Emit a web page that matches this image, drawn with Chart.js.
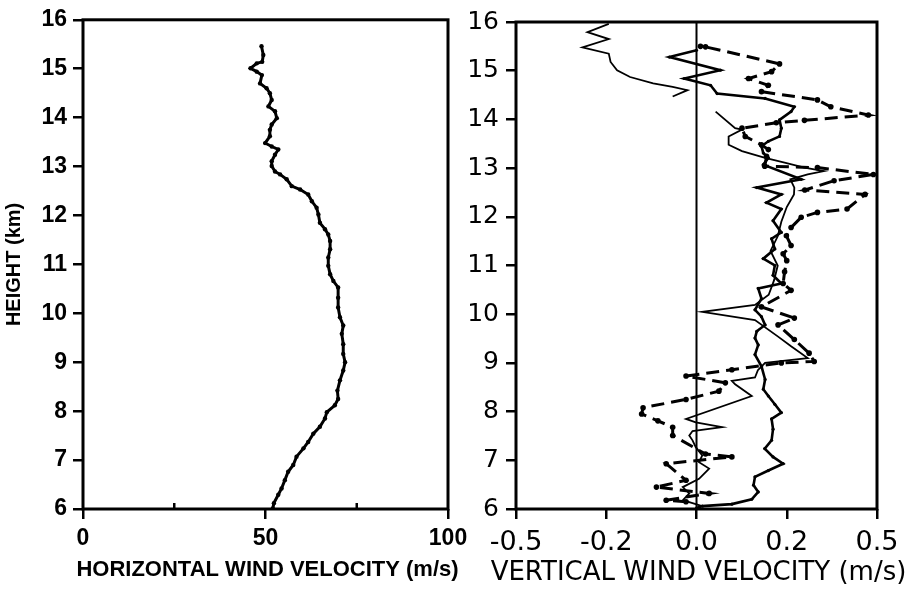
<!DOCTYPE html>
<html>
<head>
<meta charset="utf-8">
<script src="https://cdn.jsdelivr.net/npm/chart.js@4.4.1/dist/chart.umd.min.js"></script>
<style>
  body { margin: 0; background: #fff; }
  canvas { position: absolute; top: 0; }
  #left { left: 0; }
  #right { left: 460px; }
</style>
</head>
<body>
<canvas id="left" width="480" height="590"></canvas>
<canvas id="right" width="447" height="590"></canvas>
<script>
// ---- data (heights in km, velocities in m/s) ----
const heightTicks = [6, 7, 8, 9, 10, 11, 12, 13, 14, 15, 16];
const vTickLabels = ['-0.5', '-0.2', '0.0', '0.2', '0.5'];

const horizH = [6.01,6.12,6.29,6.42,6.59,6.76,6.90,7.07,7.24,7.37,7.54,7.68,7.85,7.98,8.12,8.25,8.42,8.63,8.83,9.00,9.17,9.37,9.58,9.75,9.92,10.12,10.32,10.53,10.66,10.80,10.97,11.14,11.31,11.48,11.61,11.72,11.85,12.02,12.16,12.29,12.43,12.53,12.60,12.74,12.84,12.90,13.01,13.11,13.24,13.35,13.41,13.48,13.62,13.75,13.86,13.99,14.13,14.23,14.36,14.50,14.60,14.70,14.87,14.94,15.01,15.11,15.14,15.28,15.46];
const horizV = [52.0,52.3,53.5,54.4,55.3,56.2,57.6,58.5,60.4,61.7,63.1,64.9,66.3,66.8,69.0,69.9,69.7,70.4,71.3,71.8,71.3,71.3,70.9,71.3,70.4,69.9,69.9,69.9,68.6,67.7,67.2,67.2,67.7,67.7,67.2,66.3,64.9,64.5,64.0,62.7,61.7,59.5,57.2,55.8,54.0,52.6,51.7,51.7,52.6,53.5,51.7,49.9,51.2,51.2,51.7,53.1,52.6,50.8,51.7,51.2,50.3,48.5,49.0,47.6,45.9,47.6,49.1,49.4,48.9];

const heavyH = [6.02,6.06,6.10,6.20,6.35,6.49,6.66,6.79,6.93,7.07,7.24,7.41,7.64,7.85,7.98,8.15,8.32,8.46,8.66,8.93,9.17,9.37,9.51,9.65,9.78,9.95,10.09,10.32,10.53,10.63,10.80,11.00,11.14,11.34,11.55,11.68,11.92,12.16,12.29,12.46,12.60,12.77,13.07,13.21,13.31,13.45,13.55,13.65,13.82,13.99,14.16,14.26,14.43,14.53,14.70,14.84,15.01,15.28,15.42];
const heavyV = [0.00,0.016,0.098,0.153,0.171,0.158,0.162,0.199,0.240,0.212,0.189,0.208,0.212,0.208,0.235,0.217,0.199,0.185,0.19,0.18,0.162,0.171,0.162,0.167,0.19,0.18,0.162,0.18,0.171,0.235,0.212,0.217,0.185,0.217,0.208,0.235,0.212,0.235,0.194,0.235,0.167,0.29,0.185,0.199,0.185,0.18,0.199,0.23,0.235,0.23,0.262,0.271,0.19,0.057,0.039,-0.034,0.066,-0.075,0.0];

const thinLowH = [6.05,6.12,6.18,6.32,6.45,6.62,6.83,6.96,7.10,7.27,7.41,7.51,7.60,7.68,7.78,7.85,8.32,8.56,8.63,8.70,8.85,9.00,9.10,9.34,9.54,9.88,10.05,10.19,10.40,10.70,11.00,11.30,11.60,11.90,12.20,12.46,12.60,12.77,12.87,12.94,13.01,13.11,13.21,13.35,13.48,13.65,13.79,13.82,14.16];
const thinLowV = [0.02,-0.011,-0.038,-0.02,-0.038,0.007,0.035,0.007,0.016,-0.002,-0.011,-0.02,-0.011,0.071,-0.002,-0.029,0.153,0.107,0.098,0.162,0.17,0.19,0.308,0.262,0.226,0.162,0.016,0.162,0.2,0.215,0.225,0.205,0.225,0.235,0.25,0.27,0.271,0.26,0.308,0.353,0.299,0.244,0.19,0.126,0.089,0.089,0.126,0.107,0.053];

const thinTopH = [14.47,14.60,14.67,14.74,14.87,15.01,15.18,15.35,15.48,15.65,15.79,15.96];
const thinTopV = [-0.066,-0.025,-0.066,-0.12,-0.184,-0.22,-0.238,-0.243,-0.316,-0.243,-0.302,-0.243];

const dashH = [6.15,6.18,6.32,6.45,6.59,6.93,7.07,7.13,7.51,7.68,7.81,7.95,8.08,8.25,8.42,8.59,8.73,8.86,9.00,9.03,9.20,9.48,9.78,9.92,10.15,10.49,10.63,10.87,11.10,11.24,11.41,11.61,11.78,11.99,12.09,12.16,12.46,12.55,12.74,12.87,13.01,13.04,13.24,13.38,13.48,13.65,13.82,13.93,13.98,14.09,14.26,14.40,14.57,14.70,14.84,14.98,15.14,15.49,15.50];
const dashV = [-0.029,-0.084,0.035,-0.111,-0.029,-0.084,0.098,0.025,-0.066,-0.066,-0.107,-0.152,-0.148,-0.029,0.062,0.08,-0.029,0.098,0.235,0.326,0.312,0.271,0.226,0.271,0.18,0.262,0.24,0.244,0.25,0.24,0.262,0.249,0.262,0.29,0.335,0.417,0.467,0.30,0.381,0.49,0.335,0.189,0.194,0.199,0.18,0.135,0.126,0.221,0.299,0.476,0.372,0.335,0.18,0.199,0.144,0.208,0.23,0.025,0.011];

const zeroV = [0, 0];
const zeroH = [6, 16];

function pts(xs, ys) {
    return xs.map((x, i) => ({ x: x, y: ys[i] }));
}

// box round the plot area, small inward ticks for unlabelled x ticks, and the x title
// (drawn here so it is not squeezed to the width of the plot area)
function framePlugin(titleText, titleFont, titleY) {
    return {
        id: 'frame',
        afterDraw(chart) {
            const ctx = chart.ctx, a = chart.chartArea;
            ctx.save();
            ctx.lineWidth = 3;
            ctx.strokeStyle = '#000';
            ctx.strokeRect(a.left, a.top, a.right - a.left, a.bottom - a.top);
            const xs = chart.scales.x;
            ctx.lineWidth = 2.5;
            xs.ticks.forEach(t => {
                if (t.label === '') {
                    const px = xs.getPixelForValue(t.value);
                    ctx.beginPath();
                    ctx.moveTo(px, a.bottom);
                    ctx.lineTo(px, a.bottom - 6);
                    ctx.stroke();
                }
            });
            ctx.fillStyle = '#000';
            ctx.font = titleFont;
            ctx.textAlign = 'center';
            ctx.textBaseline = 'middle';
            ctx.fillText(titleText, (a.left + a.right) / 2 + 2, titleY);
            ctx.restore();
        }
    };
}

Chart.defaults.color = '#000';
Chart.defaults.animation = false;

const tickGrid = { drawOnChartArea: false, drawTicks: true, tickLength: 10, color: '#000', lineWidth: 2.5 };

// left panel: horizontal wind
new Chart(document.getElementById('left'), {
    type: 'scatter',
    data: {
        datasets: [{
            data: pts(horizV, horizH),
            showLine: true,
            borderColor: '#000',
            borderWidth: 3,
            pointRadius: 2.2,
            pointBackgroundColor: '#000',
            pointBorderWidth: 0
        }]
    },
    options: {
        responsive: false,
        devicePixelRatio: 1,
        layout: { padding: { top: 18, right: 32, bottom: 0, left: 0 } },
        plugins: { legend: { display: false }, tooltip: { enabled: false } },
        scales: {
            x: {
                min: 0, max: 100,
                ticks: {
                    stepSize: 25, maxRotation: 0, padding: 6,
                    font: { family: 'Liberation Sans', weight: 'bold', size: 23 },
                    callback: v => (v % 50 === 0 ? v : '')
                },
                grid: {
                    drawOnChartArea: false, drawTicks: true, tickLength: 10, lineWidth: 2.5,
                    color: ctx => (ctx.tick && ctx.tick.value % 50 !== 0 ? 'rgba(0,0,0,0)' : '#000')
                },
                border: { display: false },
                afterFit: s => { s.height = 81; }
            },
            y: {
                min: 6, max: 16,
                afterBuildTicks: s => { s.ticks = heightTicks.map(v => ({ value: v })); },
                ticks: { padding: 6, font: { family: 'Liberation Sans', weight: 'bold', size: 23 } },
                grid: tickGrid,
                border: { display: false },
                title: {
                    display: true, text: 'HEIGHT (km)',
                    font: { family: 'Liberation Sans', weight: 'bold', size: 20 },
                    padding: { top: 2, bottom: 0 }
                },
                afterFit: s => { s.width = 83; }
            }
        }
    },
    plugins: [framePlugin('HORIZONTAL WIND VELOCITY (m/s)', 'bold 22px "Liberation Sans"', 570)]
});

// right panel: vertical wind
new Chart(document.getElementById('right'), {
    type: 'scatter',
    data: {
        datasets: [{
            data: pts(zeroV, zeroH),
            showLine: true, borderColor: '#000', borderWidth: 2, pointRadius: 0
        }, {
            data: pts(heavyV, heavyH),
            showLine: true, borderColor: '#000', borderWidth: 2.6,
            pointRadius: 1.6, pointBackgroundColor: '#000', pointBorderWidth: 0
        }, {
            data: pts(thinLowV, thinLowH),
            showLine: true, borderColor: '#000', borderWidth: 1.8, pointRadius: 0
        }, {
            data: pts(thinTopV, thinTopH),
            showLine: true, borderColor: '#000', borderWidth: 1.8, pointRadius: 0
        }, {
            data: pts(dashV, dashH),
            showLine: true, borderColor: '#000', borderWidth: 3, borderDash: [13, 7],
            pointRadius: 2.8, pointBackgroundColor: '#000', pointBorderWidth: 0
        }]
    },
    options: {
        responsive: false,
        devicePixelRatio: 1,
        layout: { padding: { top: 18, right: 30, bottom: 0, left: 0 } },
        plugins: { legend: { display: false }, tooltip: { enabled: false } },
        scales: {
            x: {
                min: -0.5, max: 0.5,
                ticks: {
                    stepSize: 0.25, maxRotation: 0, padding: 8,
                    font: { family: 'DejaVu Sans', size: 27 },
                    callback: (v, i) => vTickLabels[i]
                },
                grid: tickGrid,
                border: { display: false },
                afterFit: s => { s.height = 81; }
            },
            y: {
                min: 6, max: 16,
                afterBuildTicks: s => { s.ticks = heightTicks.map(v => ({ value: v })); },
                ticks: { padding: 7, font: { family: 'DejaVu Sans', size: 25 } },
                grid: tickGrid,
                border: { display: false },
                afterFit: s => { s.width = 56; }
            }
        }
    },
    plugins: [framePlugin('VERTICAL WIND VELOCITY (m/s)', '26px "DejaVu Sans"', 573)]
});
</script>
</body>
</html>
